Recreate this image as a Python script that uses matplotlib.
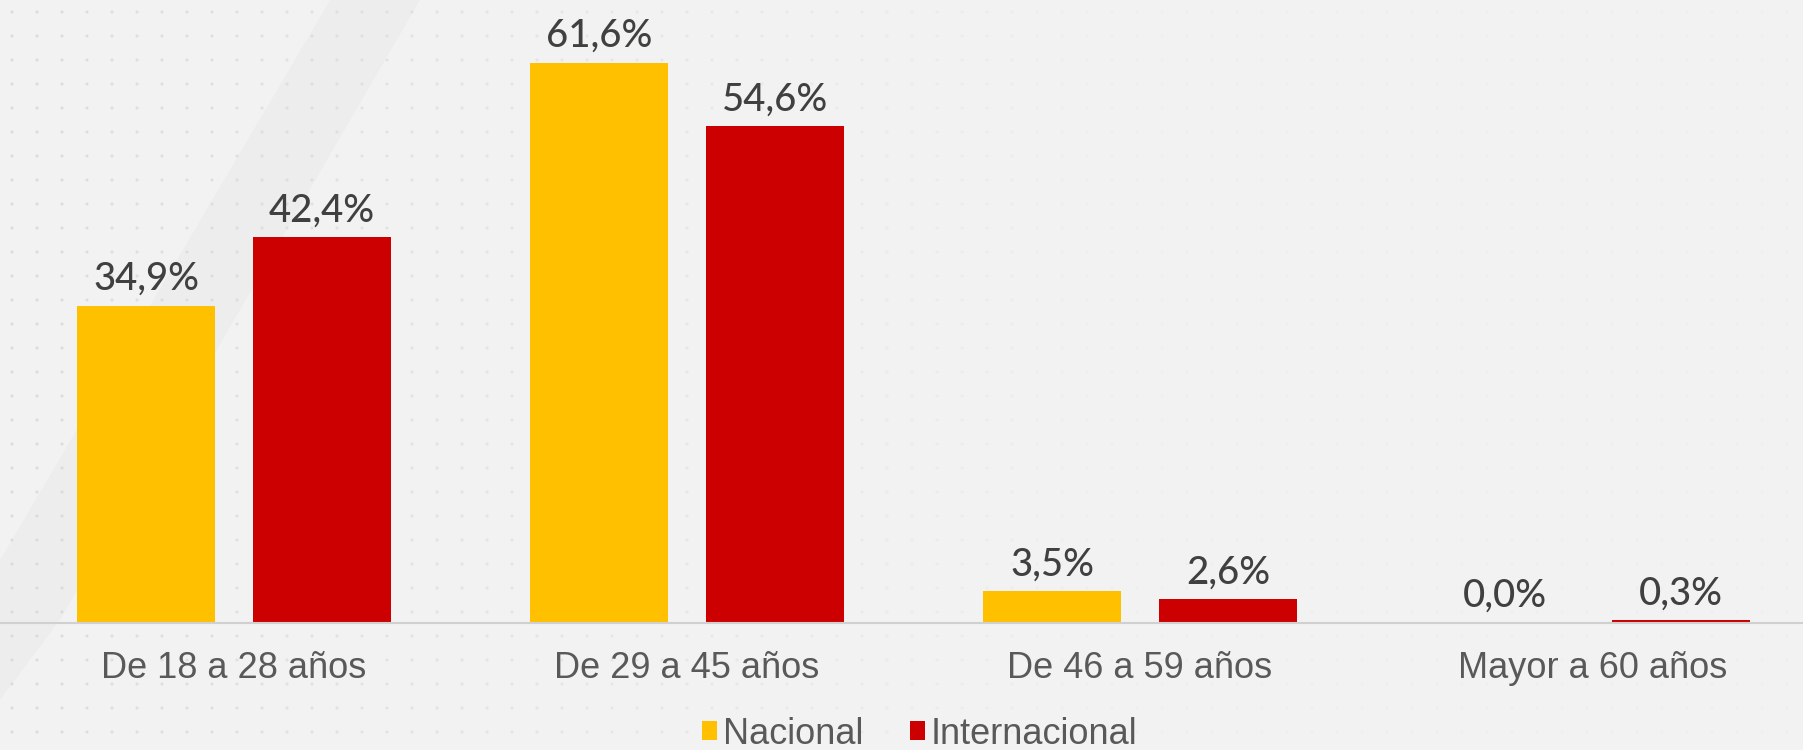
import numpy as np
import matplotlib.pyplot as plt
from matplotlib.patches import Polygon

# data
categorias = ["De 18 a 28 años", "De 29 a 45 años", "De 46 a 59 años", "Mayor a 60 años"]
nacional = [34.9, 61.6, 3.5, 0.0]
internacional = [42.4, 54.6, 2.6, 0.3]
series = ["Nacional", "Internacional"]
colores = ["#FFC000", "#CC0000"]

fig = plt.figure(figsize=(18.03, 7.5), dpi=100)
fig.patch.set_facecolor("#f2f2f2")

# background: faint dot grid and a soft diagonal band
bg = fig.add_axes([0, 0, 1, 1], zorder=0)
bg.set_xlim(0, 1803)
bg.set_ylim(750, 0)
bg.axis("off")
bg.add_patch(Polygon([[0, 560], [330, 0], [420, 0], [60, 620], [0, 700]],
                     closed=True, color="black", alpha=0.02, lw=0))
gx, gy = np.meshgrid(np.arange(12, 1803, 25), np.arange(12, 750, 24))
fade = np.clip(1.0 - gx / 1300.0, 0.15, 1.0)
bg.scatter(gx.ravel(), gy.ravel(), s=5, color="#d3d3d3", alpha=fade.ravel() * 0.7, lw=0)

ax = fig.add_axes([0, 0.1693, 1, 0.8307], zorder=1)
ax.set_facecolor("none")

x = np.arange(len(categorias))
off = 0.194
w = 0.3046
b1 = ax.bar(x - off, nacional, w, color=colores[0], label=series[0])
b2 = ax.bar(x + off, internacional, w, color=colores[1], label=series[1])

for bars, vals in [(b1, nacional), (b2, internacional)]:
    for r, v in zip(bars, vals):
        ax.annotate(f"{v:.1f}%".replace(".", ","),
                    (r.get_x() + r.get_width() / 2, v),
                    xytext=(0, 11.5), textcoords="offset points",
                    ha="center", va="baseline", fontsize=27.5,
                    family="Lato", weight="medium", color="#404040")

ax.set_xlim(-0.5166, 3.4636)
ax.set_ylim(0, 68.5)
ax.set_yticks([])
ax.set_xticks(x)
ax.set_xticklabels(categorias, fontsize=26, family="Liberation Sans", color="#595959")
ax.tick_params(axis="x", length=0, pad=20)
for s in ["top", "right", "left"]:
    ax.spines[s].set_visible(False)
ax.spines["bottom"].set_color("#d0d0d0")
ax.spines["bottom"].set_linewidth(1.5)

fig.legend(loc="lower center", bbox_to_anchor=(0.51, -0.031), ncol=2, frameon=False,
           prop={"family": "Liberation Sans", "size": 26}, borderpad=0.1,
           labelcolor="#595959", handlelength=0.42, handleheight=0.42,
           handletextpad=0.15, columnspacing=1.3)

fig.savefig("out.png", dpi=100, facecolor=fig.get_facecolor())
